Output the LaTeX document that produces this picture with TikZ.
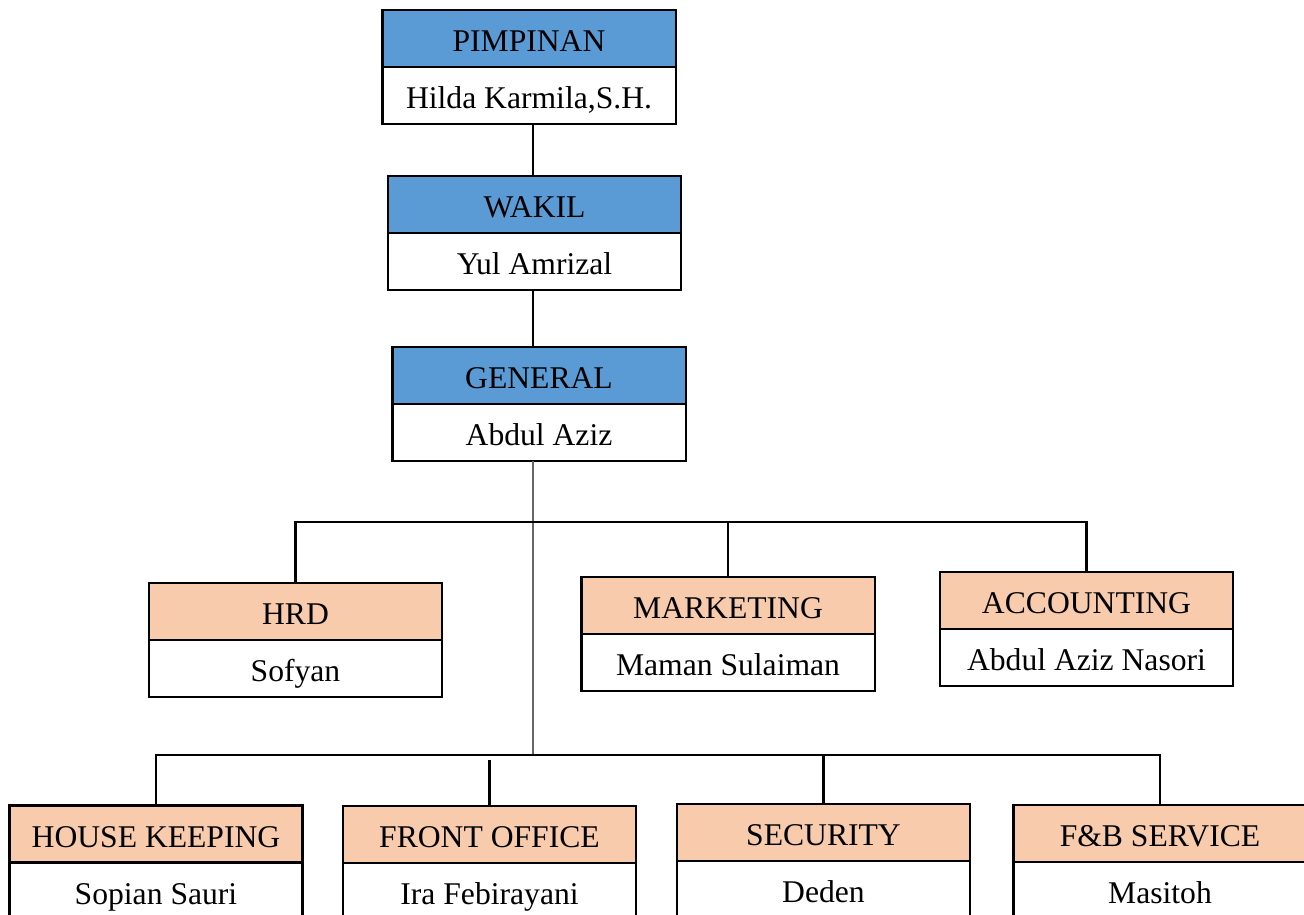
\documentclass[tikz,border=0pt]{standalone}
\usepackage{fontspec}
\setmainfont{Liberation Serif}
\usetikzlibrary{positioning}
\definecolor{headblue}{HTML}{5B9BD5}
\definecolor{headpeach}{HTML}{F8CBAD}
\tikzset{
	unitbox/.style={draw=black, line width=1.4pt, minimum width=5.87cm, minimum height=1.14cm, inner sep=0pt, outer sep=0pt, text height=15.3pt, text depth=0pt, font=\fontsize{18}{22}\selectfont},
	topbox/.style={unitbox, fill=headblue},
	deptbox/.style={unitbox, fill=headpeach},
	namebox/.style={unitbox, fill=white},
	link/.style={line width=1.4pt},
	thinlink/.style={line width=0.6pt, color=black!60},
}

\begin{document}
\begin{tikzpicture}[x=0.02cm, y=-0.02cm]
		%%%%% START %%%%%
		
		\useasboundingbox (0, 0) rectangle (1304, 915);
		
		% leaders
		\node[topbox] (pimpinan) at (529, 38.5) {PIMPINAN};
		\node[namebox, below=0pt of pimpinan] (pimpinanname) {Hilda Karmila,S.H.};
		
		\node[topbox] (wakil) at (534.5, 204.5) {WAKIL};
		\node[namebox, below=0pt of wakil] (wakilname) {Yul Amrizal};
		
		\node[topbox] (general) at (539, 375.5) {GENERAL};
		\node[namebox, below=0pt of general] (generalname) {Abdul Aziz};
		
		% middle row
		\node[deptbox] (hrd) at (295.5, 611.5) {HRD};
		\node[namebox, below=0pt of hrd] (hrdname) {Sofyan};
		
		\node[deptbox] (marketing) at (728, 605.5) {MARKETING};
		\node[namebox, below=0pt of marketing] (marketingname) {Maman Sulaiman};
		
		\node[deptbox] (accounting) at (1086.5, 600.5) {ACCOUNTING};
		\node[namebox, below=0pt of accounting] (accountingname) {Abdul Aziz Nasori};
		
		% bottom row
		\node[deptbox] (housekeeping) at (156, 834) {HOUSE KEEPING};
		\node[namebox, below=0pt of housekeeping] (housekeepingname) {Sopian Sauri};
		
		\node[deptbox] (frontoffice) at (489.5, 834.5) {FRONT OFFICE};
		\node[namebox, below=0pt of frontoffice] (frontofficename) {Ira Febirayani};
		
		\node[deptbox] (security) at (823.5, 832.5) {SECURITY};
		\node[namebox, below=0pt of security] (securityname) {Deden};
		
		\node[deptbox] (fnb) at (1160, 833.5) {F\&B SERVICE};
		\node[namebox, below=0pt of fnb] (fnbname) {Masitoh};
		
		% connectors
		\coordinate (spine) at (533, 0);
		\coordinate (busmid) at (0, 522);
		\coordinate (buslow) at (0, 755);
		
		\draw[link] (pimpinanname.south -| spine) -- (wakil.north -| spine);
		\draw[link] (wakilname.south -| spine) -- (general.north -| spine);
		\draw[thinlink] (generalname.south -| spine) -- (buslow -| spine);
		
		\draw[link] (hrd.north) -- (hrd.north |- busmid) -- (accounting.north |- busmid) -- (accounting.north);
		\draw[link] (marketing.north) -- (marketing.north |- busmid);
		
		\draw[link] (housekeeping.north) -- (housekeeping.north |- buslow) -- (fnb.north |- buslow) -- (fnb.north);
		\draw[link] (frontoffice.north) -- ++(0, -46);
		\draw[link] (security.north) -- (security.north |- buslow);
		
		%%%%% END %%%%%
\end{tikzpicture}
\end{document}
